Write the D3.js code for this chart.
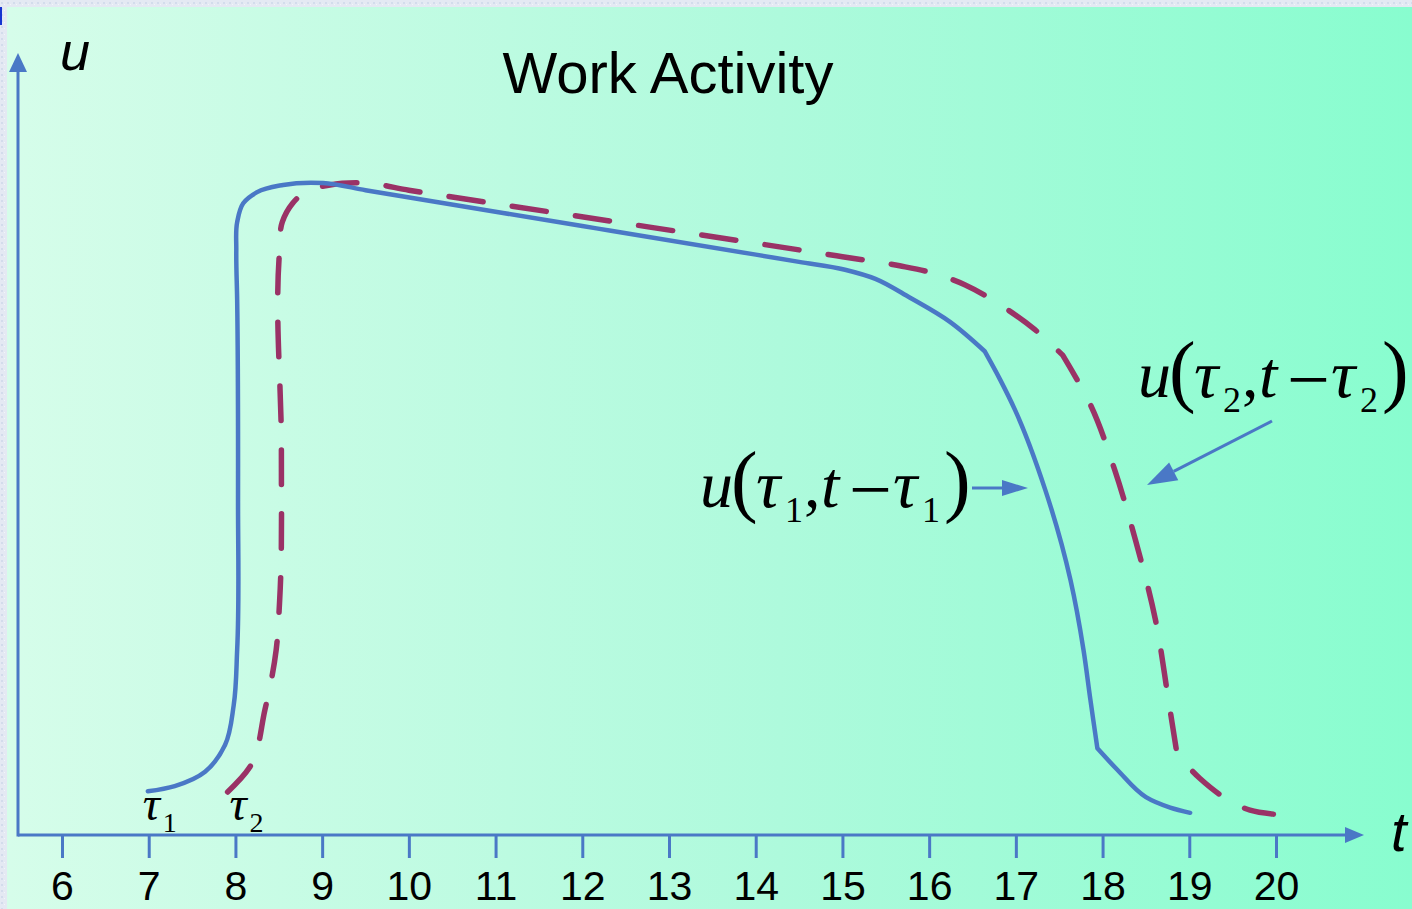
<!DOCTYPE html>
<html>
<head>
<meta charset="utf-8">
<script src="https://cdn.jsdelivr.net/npm/d3@7/dist/d3.min.js"></script>
<style>
html,body{margin:0;padding:0;background:#e2e8f2;}
svg{display:block;}
</style>
</head>
<body>
<svg id="chart" width="1412" height="909"></svg>
<script>
// ---- data ----
const title = "Work Activity";
const tickValues = [6,7,8,9,10,11,12,13,14,15,16,17,18,19,20];
const tickLabels = ["6","7","8","9","10","11","12","13","14","15","16","17","18","19","20"];

// u(tau1, t - tau1): solid blue
const blueT = [6.99,7.30,7.65,7.88,7.98,8.02,8.03,8.02,8.01,8.02,8.09,8.25,8.55,9.01,9.50,12.00,14.50,15.03,15.38,15.78,16.24,16.64,16.82,16.99,17.34,17.63,17.78,17.86,17.94,18.17,18.50,18.78,19.01];
const blueU = [0.067,0.075,0.097,0.138,0.199,0.284,0.514,0.821,0.897,0.940,0.969,0.986,0.997,1.0,0.989,0.934,0.879,0.867,0.853,0.824,0.787,0.742,0.698,0.652,0.529,0.391,0.284,0.207,0.133,0.100,0.058,0.042,0.034];
const blueCorners = [16.64, 17.94];

// u(tau2, t - tau2): dashed red
const redT = [7.91,8.16,8.34,8.47,8.51,8.53,8.51,8.54,8.66,8.80,9.09,9.49,10.00,12.50,15.00,15.66,16.01,16.41,16.82,17.22,17.54,17.86,18.14,18.38,18.61,18.76,18.86,19.12,19.41,19.70,19.97];
const redU = [0.066,0.103,0.192,0.284,0.360,0.590,0.897,0.940,0.969,0.986,0.997,1.0,0.989,0.938,0.887,0.873,0.863,0.844,0.813,0.775,0.736,0.660,0.560,0.452,0.330,0.207,0.123,0.087,0.057,0.038,0.032];
const redCorners = [17.54, 18.86];

const tauMarks = [{t:7, sub:"1"}, {t:8, sub:"2"}];

// ---- drawing ----
const svg = d3.select("#chart");
const W = 1412, H = 909;
const blue = "#4a78c6", red = "#9a3266";

const defs = svg.append("defs");
const grad = defs.append("linearGradient").attr("id","bg").attr("x1","0").attr("x2","1").attr("y1","0").attr("y2","0");
grad.append("stop").attr("offset","0%").attr("stop-color","#d6fdea");
grad.append("stop").attr("offset","55%").attr("stop-color","#aefadc");
grad.append("stop").attr("offset","100%").attr("stop-color","#88fdcf");

// textured frame
const pat = defs.append("pattern").attr("id","tex").attr("width",6).attr("height",6).attr("patternUnits","userSpaceOnUse");
pat.append("rect").attr("width",6).attr("height",6).attr("fill","#e4e9f3");
pat.append("rect").attr("x",1).attr("y",2).attr("width",2).attr("height",2).attr("fill","#d3dcec");
pat.append("rect").attr("x",4).attr("y",4).attr("width",1).attr("height",1).attr("fill","#f2f5fa");
svg.append("rect").attr("width",W).attr("height",H).attr("fill","url(#tex)");
svg.append("rect").attr("x",7).attr("y",7).attr("width",W-7).attr("height",H-7).attr("fill","url(#bg)");
svg.append("rect").attr("x",0).attr("y",7).attr("width",2).attr("height",18).attr("fill","#1634d0");

const x = d3.scaleLinear().domain([6,20]).range([62,1276]);
const y = d3.scaleLinear().domain([0,1]).range([835,183]);
const x0 = 18, y0 = y(0);

// axes
const xAxis = d3.axisBottom(x).tickValues(tickValues).tickFormat((d,i)=>tickLabels[i]).tickSize(23).tickPadding(13);
const gx = svg.append("g").attr("transform",`translate(0,${y0})`).call(xAxis);
gx.select(".domain").remove();
gx.selectAll(".tick line").attr("stroke",blue).attr("stroke-width",3);
gx.selectAll(".tick text").attr("fill","#000").attr("font-family","'Liberation Sans', Arial, sans-serif").attr("font-size",41).attr("dy","0.71em");

svg.append("line").attr("x1",x0).attr("x2",1345).attr("y1",y0).attr("y2",y0).attr("stroke",blue).attr("stroke-width",3);
svg.append("path").attr("d",`M1345,${y0-8}L1364,${y0}L1345,${y0+8}Z`).attr("fill",blue);
svg.append("line").attr("x1",x0).attr("x2",x0).attr("y1",y0+1.5).attr("y2",70).attr("stroke",blue).attr("stroke-width",3);
svg.append("path").attr("d",`M${x0-9},72L${x0},53L${x0+9},72Z`).attr("fill",blue);

// axis labels
svg.append("text").attr("x",60).attr("y",70).text("u").attr("font-family","'Liberation Sans', Arial, sans-serif").attr("font-style","italic").attr("font-size",54).attr("fill","#000");
svg.append("text").attr("x",1391).attr("y",851).text("t").attr("font-family","'Liberation Sans', Arial, sans-serif").attr("font-style","italic").attr("font-size",56).attr("fill","#000");

// title
svg.append("text").attr("x",668).attr("y",93).attr("text-anchor","middle").text(title)
  .attr("font-family","'Liberation Sans', Arial, sans-serif").attr("font-size",58).attr("fill","#000");

// curves: smooth Catmull-Rom pieces joined at sharp corners
const seg = d3.line().x(d=>x(d[0])).y(d=>y(d[1])).curve(d3.curveCatmullRom.alpha(1));
function piecewise(ts, us, corners){
  const pts = ts.map((t,i)=>[t,us[i]]);
  const pieces = []; let cur = [];
  pts.forEach(p=>{
    cur.push(p);
    if (corners.includes(p[0])) { pieces.push(cur); cur = [p]; }
  });
  if (cur.length > 1) pieces.push(cur);
  return pieces.map((pc,i)=>{ const d = seg(pc); return i ? "L" + d.slice(1) : d; }).join("");
}

const redPath = svg.append("path").attr("d",piecewise(redT, redU, redCorners))
  .attr("fill","none").attr("stroke",red).attr("stroke-width",5.5).attr("stroke-linecap","round").attr("stroke-linejoin","round");
const L = redPath.node().getTotalLength();
const endDash = 30, basePeriod = 63;
const n = Math.max(1, Math.round((L - endDash) / basePeriod));
const period = (L - endDash) / n;
redPath.attr("stroke-dasharray",`${(period*34/63).toFixed(2)},${(period*29/63).toFixed(2)}`);

svg.append("path").attr("d",piecewise(blueT, blueU, blueCorners))
  .attr("fill","none").attr("stroke",blue).attr("stroke-width",4.5).attr("stroke-linecap","round").attr("stroke-linejoin","round");

// tau marks on axis
const serif = "'Liberation Serif', 'Times New Roman', serif";
tauMarks.forEach(m=>{
  const g = svg.append("g").attr("transform",`translate(${x(m.t)-6},820)`);
  g.append("text").text("τ").attr("font-family",serif).attr("font-style","italic").attr("font-size",48).attr("fill","#000");
  g.append("text").attr("x",20).attr("y",12).text(m.sub).attr("font-family",serif).attr("font-size",28).attr("fill","#000");
});

// formula labels
function formula(ox, oy, sub){
  const g = svg.append("g").attr("transform",`translate(${ox},${oy})`);
  const parts = [
    {s:"u", x:0, y:0, size:66, it:true},
    {s:"(", x:31, y:0, size:80, it:false},
    {s:"τ", x:56, y:0, size:68, it:true},
    {s:sub, x:85, y:15, size:36, it:false},
    {s:",", x:104, y:0, size:66, it:false},
    {s:"t", x:121, y:0, size:66, it:true},
    {s:"−", x:149, y:8, size:76, it:false},
    {s:"τ", x:193, y:0, size:68, it:true},
    {s:sub, x:222, y:15, size:36, it:false},
    {s:")", x:244, y:0, size:80, it:false}
  ];
  parts.forEach(p=>{
    g.append("text").attr("x",p.x).attr("y",p.y).text(p.s).attr("font-family",serif)
     .attr("font-style",p.it?"italic":"normal").attr("font-size",p.size).attr("fill","#000");
  });
}
formula(700, 507, "1");
formula(1138, 397, "2");

// annotation arrows
function arrow(x1,y1,x2,y2,len,hw){
  const a = Math.atan2(y2-y1,x2-x1);
  const bx = x2 - len*Math.cos(a), by = y2 - len*Math.sin(a);
  svg.append("line").attr("x1",x1).attr("y1",y1).attr("x2",bx).attr("y2",by).attr("stroke",blue).attr("stroke-width",3);
  const px = -Math.sin(a)*hw, py = Math.cos(a)*hw;
  svg.append("path").attr("d",`M${x2},${y2}L${bx+px},${by+py}L${bx-px},${by-py}Z`).attr("fill",blue);
}
arrow(972,488,1028,488,26,8);
arrow(1272,421,1147,485,30,10);
</script>
</body>
</html>
